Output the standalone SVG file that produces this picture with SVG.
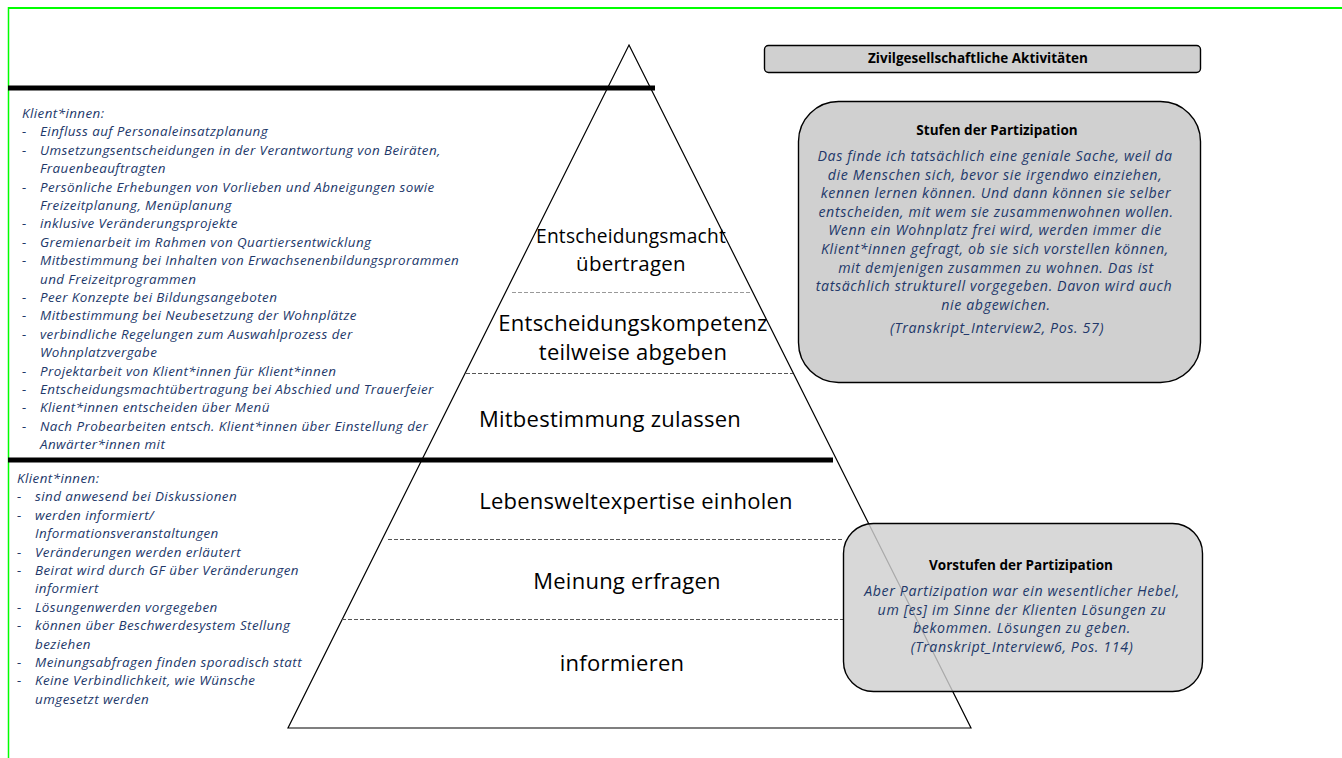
<svg xmlns="http://www.w3.org/2000/svg" width="1342" height="758" viewBox="0 0 1342 758">
  <style>
    .list { font-family: "Open Sans", "Noto Sans", sans-serif; font-style: italic; font-size: 13.4px; letter-spacing: 0.43px; fill: #22386a; }
    .quote { font-family: "Open Sans", "Noto Sans", sans-serif; font-style: italic; font-size: 14.2px; letter-spacing: 0.62px; fill: #22386a; text-anchor: middle; }
    .title { font-family: "Open Sans", "Noto Sans", sans-serif; font-weight: bold; font-size: 13.5px; fill: #000; text-anchor: middle; }
    .level { font-family: "Open Sans", "Noto Sans", sans-serif; font-size: 22px; letter-spacing: 0.25px; fill: #000; text-anchor: middle; }
    .level-sm { font-size: 20.5px; }
    .box { fill: #d0d0d0; stroke: #000; stroke-width: 1.4; }
    .dash { fill: none; stroke: #555; stroke-width: 1; stroke-dasharray: 4 2; }
    .bar { stroke: #000; stroke-width: 5; }
  </style>

  <!-- frame edges -->
  <line x1="8" y1="8" x2="1342" y2="8" stroke="#00ff00" stroke-width="2"/>
  <line x1="8.5" y1="7" x2="8.5" y2="758" stroke="#00ff00" stroke-width="1.5"/>

  <!-- pyramid outline -->
  <g id="pyramid">
    <polygon points="629,45 971,728 288,728" fill="none" stroke="#000" stroke-width="1.2"/>
  </g>

  <!-- level separators -->
  <g id="connectors">
    <line class="dash" x1="512" y1="292.5" x2="752" y2="292.5" style="stroke:#999"/>
    <line class="dash" x1="466" y1="373.5" x2="793" y2="373.5"/>
    <line class="dash" x1="388" y1="539.5" x2="843" y2="539.5"/>
    <line class="dash" x1="342" y1="619.5" x2="843" y2="619.5"/>
    <line class="bar" x1="8" y1="88" x2="655" y2="88"/>
    <line class="bar" x1="8" y1="460" x2="833" y2="460"/>
  </g>

  <!-- pyramid level labels -->
  <g id="level-entscheidungsmacht">
    <text class="level level-sm" x="631" y="243" textLength="190" lengthAdjust="spacingAndGlyphs">Entscheidungsmacht</text>
    <text class="level level-sm" x="631" y="271">übertragen</text>
  </g>
  <g id="level-entscheidungskompetenz">
    <text class="level" x="633" y="331">Entscheidungskompetenz</text>
    <text class="level" x="633" y="360">teilweise abgeben</text>
  </g>
  <g id="level-mitbestimmung">
    <text class="level" x="610" y="427">Mitbestimmung zulassen</text>
  </g>
  <g id="level-lebenswelt">
    <text class="level" x="636" y="509">Lebensweltexpertise einholen</text>
  </g>
  <g id="level-meinung">
    <text class="level" x="627" y="589">Meinung erfragen</text>
  </g>
  <g id="level-informieren">
    <text class="level" x="622" y="671">informieren</text>
  </g>

  <!-- participation activities (upper list) -->
  <g id="list-partizipation" class="list">
    <text x="22" y="118">Klient*innen:</text>
    <text x="22" y="136.4">-</text><text x="40" y="136.4">Einfluss auf Personaleinsatzplanung</text>
    <text x="22" y="154.8">-</text><text x="40" y="154.8">Umsetzungsentscheidungen in der Verantwortung von Beiräten,</text>
    <text x="40" y="173.2">Frauenbeauftragten</text>
    <text x="22" y="191.6">-</text><text x="40" y="191.6">Persönliche Erhebungen von Vorlieben und Abneigungen sowie</text>
    <text x="40" y="210">Freizeitplanung, Menüplanung</text>
    <text x="22" y="228.4">-</text><text x="40" y="228.4">inklusive Veränderungsprojekte</text>
    <text x="22" y="246.8">-</text><text x="40" y="246.8">Gremienarbeit im Rahmen von Quartiersentwicklung</text>
    <text x="22" y="265.2">-</text><text x="40" y="265.2">Mitbestimmung bei Inhalten von Erwachsenenbildungsprorammen</text>
    <text x="40" y="283.6">und Freizeitprogrammen</text>
    <text x="22" y="302">-</text><text x="40" y="302">Peer Konzepte bei Bildungsangeboten</text>
    <text x="22" y="320.4">-</text><text x="40" y="320.4">Mitbestimmung bei Neubesetzung der Wohnplätze</text>
    <text x="22" y="338.8">-</text><text x="40" y="338.8">verbindliche Regelungen zum Auswahlprozess der</text>
    <text x="40" y="357.2">Wohnplatzvergabe</text>
    <text x="22" y="375.6">-</text><text x="40" y="375.6">Projektarbeit von Klient*innen für Klient*innen</text>
    <text x="22" y="394">-</text><text x="40" y="394">Entscheidungsmachtübertragung bei Abschied und Trauerfeier</text>
    <text x="22" y="412.4">-</text><text x="40" y="412.4">Klient*innen entscheiden über Menü</text>
    <text x="22" y="430.8">-</text><text x="40" y="430.8">Nach Probearbeiten entsch. Klient*innen über Einstellung der</text>
    <text x="40" y="449.2">Anwärter*innen mit</text>
  </g>

  <!-- preliminary stages (lower list) -->
  <g id="list-vorstufen" class="list">
    <text x="17" y="483">Klient*innen:</text>
    <text x="17" y="501.4">-</text><text x="35" y="501.4">sind anwesend bei Diskussionen</text>
    <text x="17" y="519.8">-</text><text x="35" y="519.8">werden informiert/</text>
    <text x="35" y="538.2">Informationsveranstaltungen</text>
    <text x="17" y="556.6">-</text><text x="35" y="556.6">Veränderungen werden  erläutert</text>
    <text x="17" y="575">-</text><text x="35" y="575">Beirat wird durch GF über Veränderungen</text>
    <text x="35" y="593.4">informiert</text>
    <text x="17" y="611.8">-</text><text x="35" y="611.8">Lösungenwerden  vorgegeben</text>
    <text x="17" y="630.2">-</text><text x="35" y="630.2">können über Beschwerdesystem Stellung</text>
    <text x="35" y="648.6">beziehen</text>
    <text x="17" y="667">-</text><text x="35" y="667">Meinungsabfragen finden sporadisch statt</text>
    <text x="17" y="685.4">-</text><text x="35" y="685.4">Keine Verbindlichkeit, wie Wünsche</text>
    <text x="35" y="703.8">umgesetzt werden</text>
  </g>

  <!-- header box -->
  <g id="zivilgesellschaft">
    <rect class="box" x="764.5" y="45.5" width="436" height="27" rx="4"/>
    <text class="title" x="978" y="63">Zivilgesellschaftliche Aktivitäten</text>
  </g>

  <!-- quote: Stufen der Partizipation -->
  <g id="stufen">
    <rect class="box" x="798.5" y="101.5" width="402" height="281" rx="40"/>
    <text class="title" x="997" y="135">Stufen der Partizipation</text>
    <g class="quote">
      <text x="995" y="161">Das finde ich tatsächlich eine geniale Sache, weil da</text>
      <text x="995" y="179.6">die Menschen sich, bevor sie irgendwo einziehen,</text>
      <text x="996" y="198.2">kennen lernen können. Und dann können sie selber</text>
      <text x="996" y="216.8">entscheiden, mit wem sie zusammenwohnen wollen.</text>
      <text x="995" y="235.4">Wenn ein Wohnplatz frei wird, werden immer die</text>
      <text x="995" y="254">Klient*innen gefragt, ob sie sich vorstellen können,</text>
      <text x="996" y="272.6">mit demjenigen zusammen zu wohnen. Das ist</text>
      <text x="994" y="291.2">tatsächlich strukturell vorgegeben. Davon wird auch</text>
      <text x="996" y="309.8">nie abgewichen.</text>
      <text x="997" y="333">(Transkript_Interview2, Pos. 57)</text>
    </g>
  </g>

  <!-- quote: Vorstufen der Partizipation (over the pyramid edge) -->
  <g id="vorstufen">
    <rect class="box" x="843.5" y="523.5" width="359" height="168" rx="30" fill-opacity="0.82"/>
    <text class="title" x="1021" y="570">Vorstufen der Partizipation</text>
    <g class="quote">
      <text x="1022" y="596">Aber Partizipation war ein wesentlicher Hebel,</text>
      <text x="1022" y="614.6">um [es] im Sinne der Klienten Lösungen zu</text>
      <text x="1022" y="633.2">bekommen. Lösungen zu geben.</text>
      <text x="1022" y="651.8">(Transkript_Interview6, Pos. 114)</text>
    </g>
  </g>
</svg>
